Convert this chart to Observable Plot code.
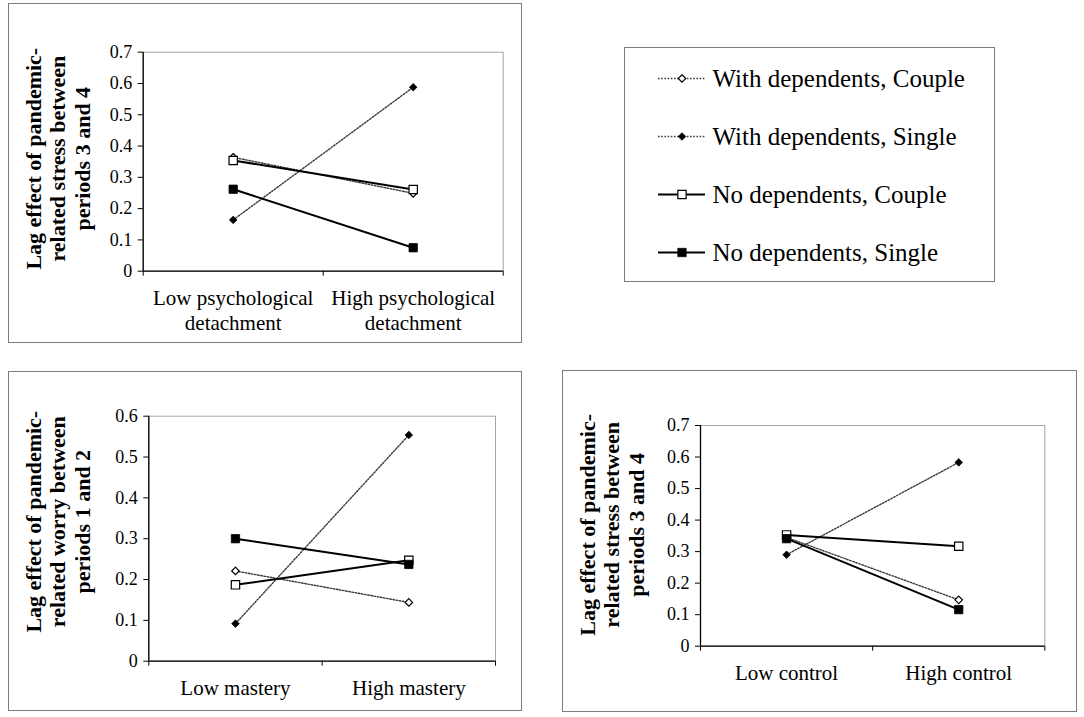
<!DOCTYPE html>
<html>
<head>
<meta charset="utf-8">
<script src="https://cdn.jsdelivr.net/npm/d3@7"></script>
<script src="https://cdn.jsdelivr.net/npm/@observablehq/plot@0.6"></script>
<style>
  body { margin: 0; background: #fff; }
  #root { position: relative; width: 1084px; height: 717px; overflow: hidden; background: #fff;
          font-family: "Liberation Serif", "Times New Roman", serif; }
  .box { position: absolute; border: 1.5px solid #7c7c7c; box-sizing: border-box; }
  .chart { position: absolute; }
  .chart svg { overflow: visible; }
</style>
</head>
<body>
<div id="root"></div>
<script>
// ---------- data ----------
const seriesNames = ["With dependents, Couple", "With dependents, Single", "No dependents, Couple", "No dependents, Single"];

// Panel A: psychological detachment (stress, periods 3 and 4)
const detachCategories = ["Low psychological\ndetachment", "High psychological\ndetachment"];
const detachWithCouple = [0.364, 0.249];
const detachWithSingle = [0.164, 0.588];
const detachNoCouple   = [0.354, 0.261];
const detachNoSingle   = [0.262, 0.075];
const detachTitle = ["Lag effect of pandemic-", "related stress between", "periods 3 and 4"];
const stressTicks = [0, 0.1, 0.2, 0.3, 0.4, 0.5, 0.6, 0.7];

// Panel B: mastery (worry, periods 1 and 2)
const masteryCategories = ["Low mastery", "High mastery"];
const masteryWithCouple = [0.221, 0.144];
const masteryWithSingle = [0.092, 0.554];
const masteryNoCouple   = [0.187, 0.247];
const masteryNoSingle   = [0.300, 0.237];
const masteryTitle = ["Lag effect of pandemic-", "related worry between", "periods 1 and 2"];
const worryTicks = [0, 0.1, 0.2, 0.3, 0.4, 0.5, 0.6];

// Panel C: control (stress, periods 3 and 4)
const controlCategories = ["Low control", "High control"];
const controlWithCouple = [0.345, 0.147];
const controlWithSingle = [0.290, 0.583];
const controlNoCouple   = [0.353, 0.317];
const controlNoSingle   = [0.341, 0.116];
const controlTitle = ["Lag effect of pandemic-", "related stress between", "periods 3 and 4"];

// ---------- styles per series ----------
const seriesStyle = [
  {dash: "1.6,1.6", stroke: "#3a3a3a", width: 1.4, symbol: "diamond2", fill: "white", r: 3.4},
  {dash: "1.6,1.6", stroke: "#3a3a3a", width: 1.4, symbol: "diamond2", fill: "black", r: 3.4},
  {dash: null,      stroke: "black",   width: 2,   symbol: "square",   fill: "white", r: 4.7},
  {dash: null,      stroke: "black",   width: 2,   symbol: "square",   fill: "black", r: 4.7}
];

const root = document.getElementById("root");
const FONT = '"Liberation Serif", "Times New Roman", serif';

function addBox(left, top, width, height) {
  const b = document.createElement("div");
  b.className = "box";
  Object.assign(b.style, {left: left + "px", top: top + "px", width: width + "px", height: height + "px"});
  root.appendChild(b);
}

function panel(cfg) {
  const {left, top, width, height, mt, mr, mb, ml, cats, ticks, values, title, titleDy} = cfg;
  addBox(left, top, width, height);
  const marks = [
    Plot.frame({stroke: "#a6a6a6", strokeWidth: 1})
  ];
  values.forEach((vals, s) => {
    const st = seriesStyle[s];
    const rows = vals.map((v, i) => ({x: i + 0.5, y: v, series: seriesNames[s]}));
    marks.push(Plot.line(rows, {x: "x", y: "y", stroke: st.stroke, strokeWidth: st.width,
      strokeDasharray: st.dash || undefined}));
    marks.push(Plot.dot(rows, {x: "x", y: "y", symbol: st.symbol, r: st.r, fill: st.fill,
      stroke: "black", strokeWidth: st.fill === "white" ? 1.2 : 0.8}));
  });
  marks.push(Plot.ruleX([0], {stroke: "black", strokeWidth: 1.3}));
  marks.push(Plot.ruleY([0], {stroke: "black", strokeWidth: 1.3}));
  marks.push(Plot.axisX({ticks: d3.range(cats.length + 1), tickSize: 5, tickFormat: () => "",
    stroke: "black", label: null}));
  marks.push(Plot.axisY({ticks, tickSize: 5, tickPadding: 6, stroke: "black", label: null,
    tickFormat: d => d === 0 ? "0" : d.toFixed(1), fontSize: 18, fill: "black"}));
  marks.push(Plot.text(cats, {x: (d, i) => i + 0.5, frameAnchor: "bottom", lineAnchor: "top",
    dy: 17, fontSize: 21, lineHeight: 1.16, fill: "black"}));
  marks.push(Plot.text([title.join("\n")], {frameAnchor: "left", rotate: -90, textAnchor: "middle",
    lineAnchor: "middle", dx: 49 - ml, dy: titleDy, fontWeight: "bold", fontSize: 22,
    lineHeight: 1.11, fill: "black"}));

  const chart = Plot.plot({
    width, height,
    marginTop: mt, marginRight: mr, marginBottom: mb, marginLeft: ml,
    x: {domain: [0, cats.length], axis: null},
    y: {domain: [0, ticks[ticks.length - 1]], axis: null},
    style: {fontFamily: FONT, fontSize: "18px", color: "black", background: "transparent"},
    marks
  });
  const wrap = document.createElement("div");
  wrap.className = "chart";
  Object.assign(wrap.style, {left: left + "px", top: top + "px"});
  wrap.appendChild(chart);
  root.appendChild(wrap);
}

panel({left: 8, top: 3, width: 514, height: 340, mt: 48.7, mr: 19.3, mb: 72.3, ml: 134.7,
  cats: detachCategories, ticks: stressTicks,
  values: [detachWithCouple, detachWithSingle, detachNoCouple, detachNoSingle],
  title: detachTitle, titleDy: -3});

panel({left: 8, top: 371, width: 514, height: 340, mt: 44.7, mr: 27, mb: 50.3, ml: 140.3,
  cats: masteryCategories, ticks: worryTicks,
  values: [masteryWithCouple, masteryWithSingle, masteryNoCouple, masteryNoSingle],
  title: masteryTitle, titleDy: -17});

panel({left: 562, top: 370, width: 515, height: 342, mt: 55, mr: 32.7, mb: 66.3, ml: 138,
  cats: controlCategories, ticks: stressTicks,
  values: [controlWithCouple, controlWithSingle, controlNoCouple, controlNoSingle],
  title: controlTitle, titleDy: -11});

// ---------- legend ----------
(function legend() {
  const left = 624, top = 47, width = 371, height = 235;
  addBox(left, top, width, height);
  const rows = seriesNames.map((name, i) => ({name, i}));
  const marks = [];
  rows.forEach(r => {
    const st = seriesStyle[r.i];
    marks.push(Plot.ruleY([r], {x1: 0, x2: 1, y: "name", stroke: st.stroke, strokeWidth: st.width,
      strokeDasharray: st.dash || undefined}));
    marks.push(Plot.dot([r], {x: 0.5, y: "name", symbol: st.symbol, r: st.r, fill: st.fill,
      stroke: "black", strokeWidth: st.fill === "white" ? 1.2 : 0.8}));
  });
  marks.push(Plot.text(rows, {x: 1, y: "name", text: "name", textAnchor: "start", dx: 7,
    fontSize: 25, fill: "black"}));
  const chart = Plot.plot({
    width, height,
    marginTop: 0, marginBottom: 0, marginLeft: 34, marginRight: 290,
    x: {domain: [0, 1], axis: null},
    y: {type: "point", domain: seriesNames, range: [31, 205], padding: 0, axis: null},
    style: {fontFamily: FONT, fontSize: "24px", color: "black", background: "transparent"},
    marks
  });
  const wrap = document.createElement("div");
  wrap.className = "chart";
  Object.assign(wrap.style, {left: left + "px", top: top + "px"});
  wrap.appendChild(chart);
  root.appendChild(wrap);
})();
</script>
</body>
</html>
